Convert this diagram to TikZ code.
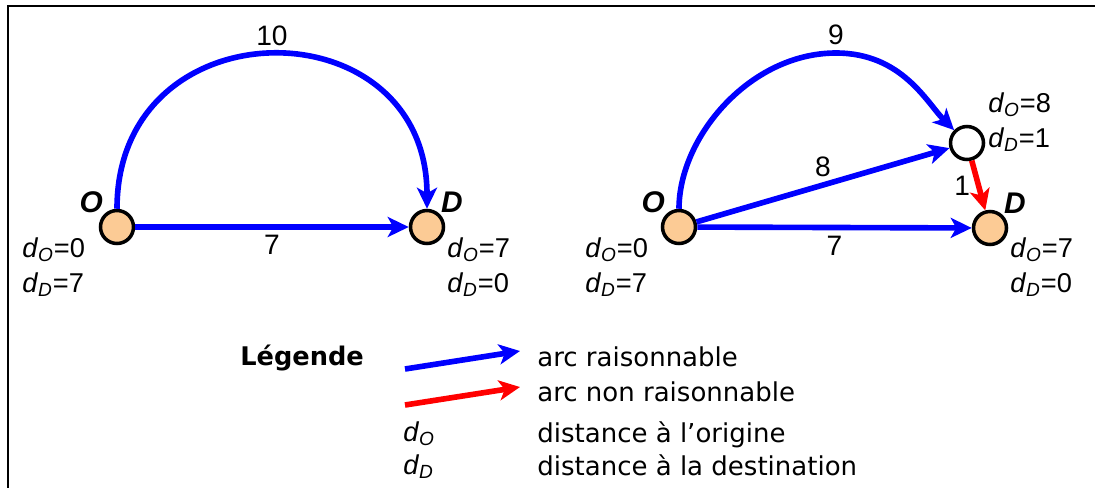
\documentclass[tikz,border=0pt]{standalone}
\usepackage{fontspec}
\setmainfont{Liberation Sans}
\newfontfamily\legendfont{DejaVu Sans}
\usetikzlibrary{arrows.meta, positioning}
\definecolor{arcblue}{HTML}{0000FF}
\definecolor{arcred}{HTML}{FF0000}
\definecolor{nodefill}{HTML}{FCCB95}
\newcommand{\dsub}[1]{\textit{d}\textsubscript{\textit{#1}}}

\begin{document}
\begin{tikzpicture}[
    x=0.02cm, y=-0.02cm,
    >={Stealth[length=0.42cm, width=0.4cm, inset=0.11cm]},
    font=\fontsize{15}{18}\selectfont,
    % --- node styles ---
    endpoint/.style={
        circle, draw=black, line width=2pt, fill=nodefill,
        minimum size=0.66cm, inner sep=0pt
    },
    midpoint/.style={endpoint, fill=white},
    letter/.style={font=\fontsize{17}{20}\selectfont\bfseries\itshape, inner sep=0.5pt},
    dist/.style={align=left, inner sep=0pt, anchor=north west, font=\fontsize{15.5}{19.9}\selectfont},
    weight/.style={inner sep=3.2pt, text=black, font=\fontsize{16}{19}\selectfont},
    legendtext/.style={anchor=base west, inner sep=0pt, font=\legendfont\fontsize{14.8}{17}\selectfont},
    % --- arc styles ---
    good/.style={->, line width=3.2pt, color=arcblue},
    bad/.style={->, line width=3.2pt, color=arcred},
]
\useasboundingbox (0,0) rectangle (1095,488);

% frame
\draw[line width=1.1pt] (1095,6) -- (8,6) -- (8,488);

% ===== LEFT: O -> D =====
\node[endpoint, label={[letter]above left:O}] (O1) at (117,227) {};
\node[endpoint, label={[letter]above right:D}] (D1) at (427,227) {};
\draw[good] (O1) -- node[weight, below] {7} (D1);
\draw[good] (O1) to[out=90, in=90, looseness=1.7] node[weight, above] {10} (D1);

\node[dist] (distO1) at (22,237) {\dsub{O}=0\\\dsub{D}=7};
\node[dist] (distD1) at (447,237) {\dsub{O}=7\\\dsub{D}=0};

% ===== RIGHT: O -> M -> D =====
\node[endpoint, label={[letter]above left:O}] (O2) at (679,227) {};
\node[endpoint, label={[letter]above right:D}] (D2) at (990,228) {};
\node[midpoint] (M) at (967,143) {};
\draw[good] (O2) -- node[weight, below] {7} (D2);
\draw[good] (O2) -- node[weight, above] {8} (M);
\draw[good] (O2) .. controls +(0,-90) and +(-86,0) .. (836,53) node[weight, above] {9}
    .. controls +(66,0) and +(-40,-40) .. (M);
\draw[bad] (M) -- node[weight, left] {1} (D2);

\node[dist] (distO2) at (585,237) {\dsub{O}=0\\\dsub{D}=7};
\node[dist] (distD2) at (1010,237) {\dsub{O}=7\\\dsub{D}=0};
\node[dist] (distM) at (988,92) {\dsub{O}=8\\\dsub{D}=1};

% ===== LEGEND =====
\node[legendtext, font=\legendfont\bfseries\fontsize{14.6}{17}\selectfont] (legend) at (240,365) {Légende};

\coordinate (good0) at (405,369);
\coordinate (good1) at (520,351);
\draw[good] (good0) -- (good1);
\node[legendtext] (goodtext) at (537,366) {arc raisonnable};

\coordinate (bad0) at (405,405);
\coordinate (bad1) at (520,387);
\draw[bad] (bad0) -- (bad1);
\node[legendtext] (badtext) at (537,401) {arc non raisonnable};

\node[legendtext, font=\fontsize{15.5}{18}\selectfont] (dOkey) at (403,441) {\dsub{O}};
\node[legendtext] (dOtext) at (537,442) {distance à l’origine};
\node[legendtext, font=\fontsize{15.5}{18}\selectfont] (dDkey) at (403,474) {\dsub{D}};
\node[legendtext] (dDtext) at (537,475) {distance à la destination};

\end{tikzpicture}
\end{document}
